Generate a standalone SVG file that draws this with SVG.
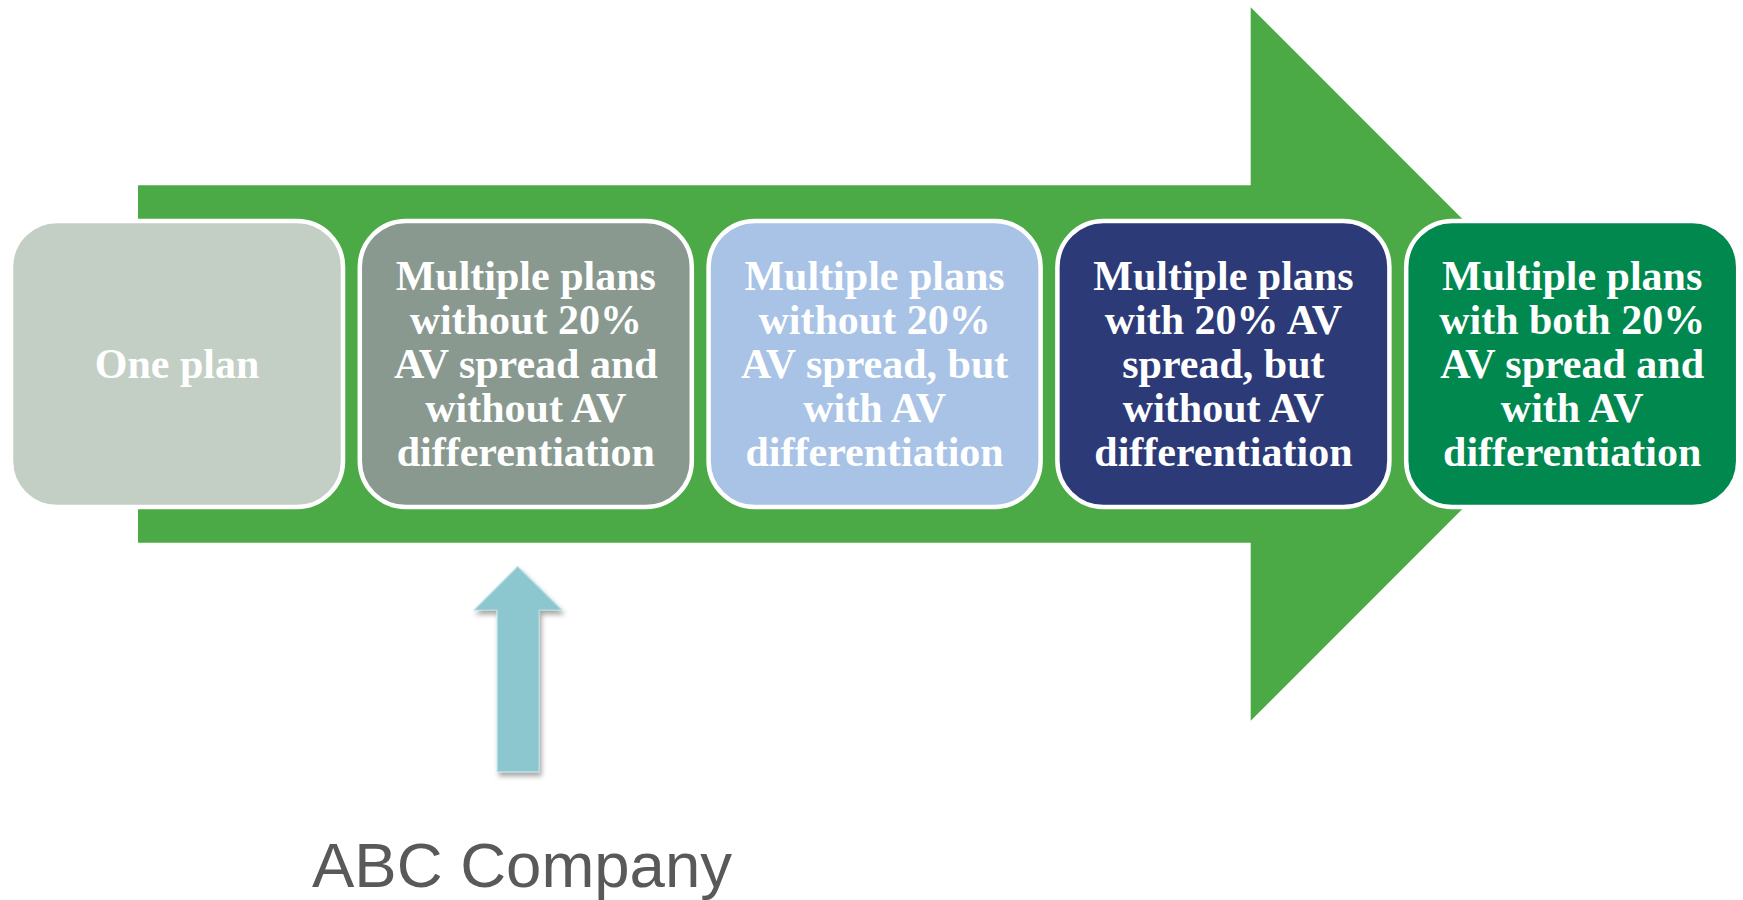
<svg xmlns="http://www.w3.org/2000/svg" width="1743" height="900" viewBox="0 0 1743 900">
  <style>
    .box { stroke: #FFFFFF; stroke-width: 4.5; }
    .lbl { font-family: "Liberation Serif", "Times New Roman", serif; font-weight: bold; font-size: 42px; fill: #FFFFFF; text-anchor: middle; }
    .caption { font-family: "Liberation Sans", Arial, sans-serif; font-size: 63.5px; fill: #595959; text-anchor: middle; }
  </style>
  <defs>
    <filter id="lift" x="-30%" y="-10%" width="160%" height="130%">
      <feDropShadow dx="2" dy="4" stdDeviation="2.5" flood-color="#000000" flood-opacity="0.35"/>
    </filter>
  </defs>

  <rect width="1743" height="900" fill="#FFFFFF"/>

  <!-- connectors: the backbone arrow and the pointer below -->
  <g id="connectors">
    <polygon id="backbone" fill="#4BAA45"
      points="138,185.3 1250.7,185.3 1250.7,7.3 1607.4,364 1250.7,720.7 1250.7,542.7 138,542.7"/>
    <polygon id="pointer" fill="#8CC6CE" stroke="#B2DDE2" stroke-width="1.2" filter="url(#lift)"
      points="517.7,566.7 561.7,610 539,610 539,771.7 497.3,771.7 497.3,610 474.3,610"/>
  </g>

  <g id="stage1">
    <rect class="box" x="11" y="221" width="332" height="286" rx="46" fill="#C3CEC5"/>
    <text class="lbl" x="177" y="377.5">One plan</text>
  </g>

  <g id="stage2">
    <rect class="box" x="359.8" y="221" width="332" height="286" rx="46" fill="#89998F"/>
    <text class="lbl" x="525.8" y="289.5">Multiple plans</text>
    <text class="lbl" x="525.8" y="333.5">without 20%</text>
    <text class="lbl" x="525.8" y="377.5">AV spread and</text>
    <text class="lbl" x="525.8" y="421.5">without AV</text>
    <text class="lbl" x="525.8" y="465.5">differentiation</text>
  </g>

  <g id="stage3">
    <rect class="box" x="708.6" y="221" width="332" height="286" rx="46" fill="#A8C3E6"/>
    <text class="lbl" x="874.6" y="289.5">Multiple plans</text>
    <text class="lbl" x="874.6" y="333.5">without 20%</text>
    <text class="lbl" x="874.6" y="377.5">AV spread, but</text>
    <text class="lbl" x="874.6" y="421.5">with AV</text>
    <text class="lbl" x="874.6" y="465.5">differentiation</text>
  </g>

  <g id="stage4">
    <rect class="box" x="1057.4" y="221" width="332" height="286" rx="46" fill="#2C3B77"/>
    <text class="lbl" x="1223.4" y="289.5">Multiple plans</text>
    <text class="lbl" x="1223.4" y="333.5">with 20% AV</text>
    <text class="lbl" x="1223.4" y="377.5">spread, but</text>
    <text class="lbl" x="1223.4" y="421.5">without AV</text>
    <text class="lbl" x="1223.4" y="465.5">differentiation</text>
  </g>

  <g id="stage5">
    <rect class="box" x="1406.2" y="221" width="332" height="286" rx="46" fill="#00884F"/>
    <text class="lbl" x="1572.2" y="289.5">Multiple plans</text>
    <text class="lbl" x="1572.2" y="333.5">with both 20%</text>
    <text class="lbl" x="1572.2" y="377.5">AV spread and</text>
    <text class="lbl" x="1572.2" y="421.5">with AV</text>
    <text class="lbl" x="1572.2" y="465.5">differentiation</text>
  </g>

  <g id="company">
    <text class="caption" x="522" y="886.7">ABC Company</text>
  </g>
</svg>
